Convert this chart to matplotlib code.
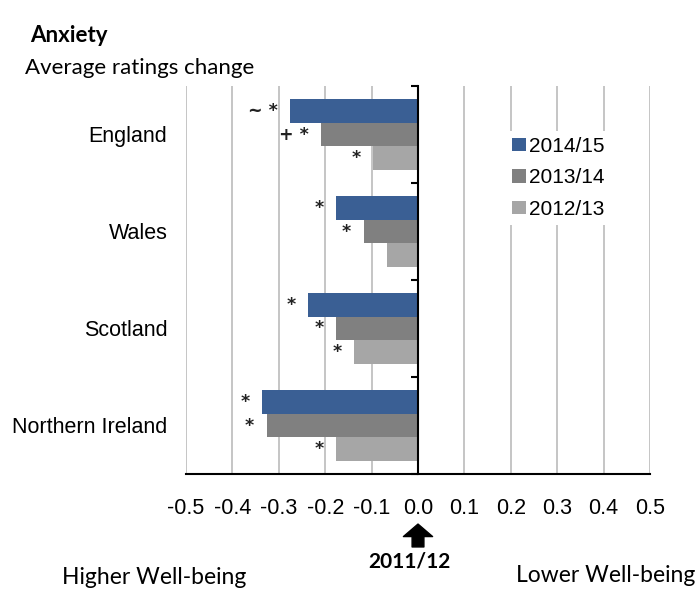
import matplotlib
matplotlib.use("Agg")
import matplotlib.pyplot as plt
import numpy as np

# data
countries = ["England", "Wales", "Scotland", "Northern Ireland"]
years = ["2014/15", "2013/14", "2012/13"]
chg_1415 = [-0.276, -0.177, -0.237, -0.336]
chg_1314 = [-0.209, -0.117, -0.177, -0.326]
chg_1213 = [-0.097, -0.067, -0.138, -0.177]
sig_1415 = ["~ *", "*", "*", "*"]
sig_1314 = ["+ *", "*", "*", "*"]
sig_1213 = ["*", "", "*", "*"]
xticks = [-0.5, -0.4, -0.3, -0.2, -0.1, 0.0, 0.1, 0.2, 0.3, 0.4, 0.5]

colors = ["#3A5F94", "#808080", "#A6A6A6"]

plt.rcParams['font.family'] = ['Liberation Sans', 'DejaVu Sans']
calibri_like = ['Lato', 'DejaVu Sans']

fig = plt.figure(figsize=(7, 5.9), dpi=100)
ax = fig.add_axes([186 / 700, 1 - 474 / 590, 464 / 700, 388 / 590])

ypos = np.arange(len(countries))
h = 0.245
series = [chg_1415, chg_1314, chg_1213]
sigs = [sig_1415, sig_1314, sig_1213]
for i, (vals, lab, c, sg) in enumerate(zip(series, years, colors, sigs)):
    yy = ypos + (i - 1) * h
    ax.barh(yy, vals, height=h, color=c, label=lab, zorder=3)
    for y, v, s in zip(yy, vals, sg):
        if s:
            ax.annotate(s, xy=(v, y), xytext=(-9, 0), textcoords='offset points',
                        ha='right', va='center', fontsize=12.5, fontweight='bold',
                        family=['DejaVu Sans'], color='#222222')

ax.set_xlim(-0.5, 0.5)
ax.set_ylim(len(countries) - 0.5, -0.5)
ax.set_xticks(xticks)
ax.set_xticklabels(["%.1f" % t for t in xticks], fontsize=15.5)
ax.tick_params(axis='x', length=0, pad=17)
ax.grid(axis='x', color='#C0C0C0', linewidth=1.3, zorder=0)

# category axis sits on the zero line
ax.spines['left'].set_position(('data', 0))
ax.spines['left'].set_linewidth(1.5)
ax.spines['left'].set_zorder(4)
ax.set_yticks(np.arange(len(countries) + 1) - 0.5)
ax.set_yticklabels([])
ax.tick_params(axis='y', direction='out', length=5, width=1.5)
ax.spines['top'].set_visible(False)
ax.spines['right'].set_visible(False)
ax.spines['bottom'].set_linewidth(1.5)

for y, name in zip(ypos, countries):
    ax.text(-0.04, y + 0.02, name, transform=ax.get_yaxis_transform(),
            ha='right', va='center', fontsize=15.5)

leg = ax.legend(loc='upper left', bbox_to_anchor=(0.667, 0.912), fontsize=15,
                frameon=True, edgecolor='none', facecolor='white', framealpha=1,
                handlelength=0.65, handleheight=0.65, handletextpad=0.15,
                labelspacing=0.6, borderpad=0.3)
leg.get_frame().set_linewidth(0)

fig.text(30 / 700, 1 - 35 / 590, "Anxiety", fontsize=16, fontweight='bold',
         va='center', ha='left', family=calibri_like)
fig.text(25 / 700, 1 - 68 / 590, "Average ratings change", fontsize=16,
         va='center', ha='left', family=calibri_like)

# baseline-year arrow under 0.0
ax.annotate('', xy=(0, -0.129), xytext=(0, -0.188),
            xycoords=('data', 'axes fraction'),
            arrowprops=dict(arrowstyle='simple,head_width=2.1,head_length=0.9,tail_width=0.85',
                            color='black', shrinkA=0, shrinkB=0, mutation_scale=10),
            annotation_clip=False)
fig.text(409 / 700, 1 - 561 / 590, "2011/12", fontsize=15, fontweight='bold',
         va='center', ha='center', family=calibri_like)
fig.text(62 / 700, 1 - 578 / 590, "Higher Well-being", fontsize=16.5,
         va='center', ha='left', family=calibri_like)
fig.text(695 / 700, 1 - 575 / 590, "Lower Well-being", fontsize=16.5,
         va='center', ha='right', family=calibri_like)

fig.savefig("out.png", dpi=100)
